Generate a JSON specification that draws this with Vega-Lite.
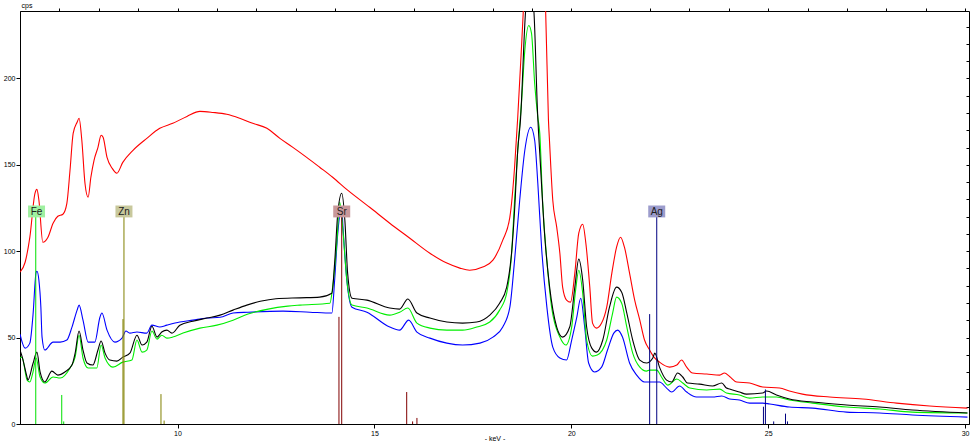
{
  "$schema": "https://vega.github.io/schema/vega-lite/v6.json",
  "width": 949,
  "height": 413,
  "autosize": "none",
  "padding": {"left": 20, "top": 11, "right": 6, "bottom": 21},
  "background": "white",
  "config": {"view": {"stroke": "black", "strokeWidth": 1}, "axis": {"domainColor": "black", "tickColor": "black", "labelColor": "black", "labelFont": "Liberation Sans", "labelFontSize": 7, "titleFont": "Liberation Sans", "titleFontSize": 7, "titleFontWeight": "normal", "titleColor": "black", "grid": false}},
  "datasets": {
    "spectra": [
      {"s":"red","k":6.00,"c":87.9},{"s":"red","k":6.13,"c":93.6},{"s":"red","k":6.25,"c":108.1},{"s":"red","k":6.38,"c":133.5},{"s":"red","k":6.43,"c":135.8},{"s":"red","k":6.48,"c":129.5},{"s":"red","k":6.58,"c":105.2},{"s":"red","k":6.71,"c":108.1},{"s":"red","k":6.84,"c":116.2},{"s":"red","k":6.96,"c":120.2},{"s":"red","k":7.09,"c":121.4},{"s":"red","k":7.19,"c":127.7},{"s":"red","k":7.27,"c":146.8},{"s":"red","k":7.35,"c":168.2},{"s":"red","k":7.45,"c":174.6},{"s":"red","k":7.50,"c":176.9},{"s":"red","k":7.57,"c":164.2},{"s":"red","k":7.65,"c":139.3},{"s":"red","k":7.73,"c":131.2},{"s":"red","k":7.80,"c":142.8},{"s":"red","k":7.88,"c":152.6},{"s":"red","k":7.98,"c":160.1},{"s":"red","k":8.06,"c":167.1},{"s":"red","k":8.11,"c":165.9},{"s":"red","k":8.21,"c":154.3},{"s":"red","k":8.34,"c":148.0},{"s":"red","k":8.46,"c":145.1},{"s":"red","k":8.61,"c":151.4},{"s":"red","k":8.87,"c":158.4},{"s":"red","k":9.22,"c":165.3},{"s":"red","k":9.55,"c":171.1},{"s":"red","k":9.88,"c":174.0},{"s":"red","k":10.24,"c":178.0},{"s":"red","k":10.57,"c":180.9},{"s":"red","k":10.90,"c":180.3},{"s":"red","k":11.25,"c":179.2},{"s":"red","k":11.58,"c":176.9},{"s":"red","k":11.91,"c":174.0},{"s":"red","k":12.27,"c":171.1},{"s":"red","k":12.60,"c":165.3},{"s":"red","k":12.93,"c":160.1},{"s":"red","k":13.28,"c":154.3},{"s":"red","k":13.61,"c":148.6},{"s":"red","k":13.94,"c":142.8},{"s":"red","k":14.32,"c":135.3},{"s":"red","k":14.88,"c":125.4},{"s":"red","k":15.39,"c":116.2},{"s":"red","k":15.90,"c":107.5},{"s":"red","k":16.41,"c":98.8},{"s":"red","k":16.84,"c":93.1},{"s":"red","k":17.17,"c":90.2},{"s":"red","k":17.42,"c":89.0},{"s":"red","k":17.75,"c":90.8},{"s":"red","k":18.01,"c":94.8},{"s":"red","k":18.26,"c":106.4},{"s":"red","k":18.44,"c":119.7},{"s":"red","k":18.56,"c":148.6},{"s":"red","k":18.64,"c":177.5},{"s":"red","k":18.74,"c":220},{"s":"red","k":18.84,"c":265},{"s":"red","k":18.95,"c":300},{"s":"red","k":19.08,"c":305},{"s":"red","k":19.22,"c":280},{"s":"red","k":19.35,"c":238},{"s":"red","k":19.42,"c":176},{"s":"red","k":19.45,"c":162.4},{"s":"red","k":19.53,"c":129.5},{"s":"red","k":19.63,"c":113.9},{"s":"red","k":19.71,"c":98.8},{"s":"red","k":19.78,"c":79.2},{"s":"red","k":19.88,"c":71.7},{"s":"red","k":19.98,"c":70.5},{"s":"red","k":20.09,"c":87.3},{"s":"red","k":20.19,"c":110.4},{"s":"red","k":20.29,"c":115.6},{"s":"red","k":20.37,"c":104.6},{"s":"red","k":20.47,"c":79.2},{"s":"red","k":20.54,"c":58.4},{"s":"red","k":20.64,"c":55.5},{"s":"red","k":20.77,"c":58.4},{"s":"red","k":20.90,"c":67.6},{"s":"red","k":21.03,"c":87.3},{"s":"red","k":21.15,"c":102.3},{"s":"red","k":21.25,"c":108.1},{"s":"red","k":21.35,"c":102.3},{"s":"red","k":21.48,"c":87.3},{"s":"red","k":21.61,"c":71.7},{"s":"red","k":21.74,"c":60.1},{"s":"red","k":21.86,"c":48.6},{"s":"red","k":21.99,"c":42.8},{"s":"red","k":22.10,"c":38.7},{"s":"red","k":22.24,"c":35.8},{"s":"red","k":22.50,"c":32.9},{"s":"red","k":22.68,"c":34.1},{"s":"red","k":22.80,"c":37.0},{"s":"red","k":22.93,"c":32.9},{"s":"red","k":23.08,"c":29.5},{"s":"red","k":23.44,"c":28.9},{"s":"red","k":23.77,"c":28.3},{"s":"red","k":23.89,"c":29.5},{"s":"red","k":24.02,"c":27.5},{"s":"red","k":24.20,"c":24.3},{"s":"red","k":24.53,"c":23.7},{"s":"red","k":24.86,"c":21.4},{"s":"red","k":25.29,"c":20.8},{"s":"red","k":25.54,"c":19.1},{"s":"red","k":25.87,"c":17.3},{"s":"red","k":26.56,"c":15.6},{"s":"red","k":27.40,"c":14.5},{"s":"red","k":28.26,"c":12.1},{"s":"red","k":29.10,"c":10.4},{"s":"red","k":30.06,"c":9.2},
      {"s":"blue","k":6.00,"c":52.0},{"s":"blue","k":6.13,"c":43.9},{"s":"blue","k":6.25,"c":46.8},{"s":"blue","k":6.33,"c":63.0},{"s":"blue","k":6.41,"c":87.9},{"s":"blue","k":6.43,"c":88.4},{"s":"blue","k":6.48,"c":83.2},{"s":"blue","k":6.53,"c":67.6},{"s":"blue","k":6.56,"c":50.3},{"s":"blue","k":6.63,"c":42.8},{"s":"blue","k":6.84,"c":47.4},{"s":"blue","k":7.02,"c":47.4},{"s":"blue","k":7.19,"c":48.6},{"s":"blue","k":7.32,"c":56.1},{"s":"blue","k":7.45,"c":65.9},{"s":"blue","k":7.50,"c":68.8},{"s":"blue","k":7.60,"c":60.1},{"s":"blue","k":7.73,"c":47.4},{"s":"blue","k":7.90,"c":47.4},{"s":"blue","k":8.03,"c":61.8},{"s":"blue","k":8.08,"c":64.2},{"s":"blue","k":8.21,"c":54.3},{"s":"blue","k":8.41,"c":47.4},{"s":"blue","k":8.59,"c":49.7},{"s":"blue","k":8.69,"c":53.8},{"s":"blue","k":8.79,"c":52.6},{"s":"blue","k":8.97,"c":53.2},{"s":"blue","k":9.22,"c":52.6},{"s":"blue","k":9.35,"c":57.2},{"s":"blue","k":9.55,"c":56.1},{"s":"blue","k":9.73,"c":57.2},{"s":"blue","k":10.06,"c":59.0},{"s":"blue","k":10.39,"c":60.1},{"s":"blue","k":10.75,"c":61.3},{"s":"blue","k":11.08,"c":61.8},{"s":"blue","k":11.41,"c":64.2},{"s":"blue","k":11.79,"c":64.7},{"s":"blue","k":12.68,"c":65.3},{"s":"blue","k":13.36,"c":64.7},{"s":"blue","k":13.92,"c":64.2},{"s":"blue","k":13.99,"c":83.2},{"s":"blue","k":14.07,"c":110.4},{"s":"blue","k":14.17,"c":125.4},{"s":"blue","k":14.20,"c":114.5},{"s":"blue","k":14.30,"c":83.2},{"s":"blue","k":14.43,"c":67.6},{"s":"blue","k":14.81,"c":64.7},{"s":"blue","k":15.39,"c":56.1},{"s":"blue","k":15.64,"c":54.3},{"s":"blue","k":15.87,"c":60.1},{"s":"blue","k":16.08,"c":53.2},{"s":"blue","k":16.41,"c":49.7},{"s":"blue","k":16.84,"c":46.8},{"s":"blue","k":17.24,"c":45.7},{"s":"blue","k":17.68,"c":46.8},{"s":"blue","k":18.01,"c":50.3},{"s":"blue","k":18.26,"c":56.1},{"s":"blue","k":18.44,"c":67.6},{"s":"blue","k":18.56,"c":94.8},{"s":"blue","k":18.69,"c":129.5},{"s":"blue","k":18.82,"c":158.4},{"s":"blue","k":18.97,"c":171.7},{"s":"blue","k":19.07,"c":164.2},{"s":"blue","k":19.15,"c":139.3},{"s":"blue","k":19.25,"c":100.6},{"s":"blue","k":19.38,"c":67.6},{"s":"blue","k":19.53,"c":44.5},{"s":"blue","k":19.71,"c":38.2},{"s":"blue","k":19.88,"c":37.0},{"s":"blue","k":20.01,"c":48.6},{"s":"blue","k":20.14,"c":61.8},{"s":"blue","k":20.24,"c":72.8},{"s":"blue","k":20.34,"c":56.1},{"s":"blue","k":20.44,"c":35.3},{"s":"blue","k":20.59,"c":30.1},{"s":"blue","k":20.77,"c":32.9},{"s":"blue","k":20.92,"c":42.8},{"s":"blue","k":21.08,"c":52.6},{"s":"blue","k":21.18,"c":54.3},{"s":"blue","k":21.30,"c":50.3},{"s":"blue","k":21.48,"c":35.3},{"s":"blue","k":21.66,"c":28.3},{"s":"blue","k":21.86,"c":24.3},{"s":"blue","k":22.07,"c":24.3},{"s":"blue","k":22.24,"c":24.3},{"s":"blue","k":22.42,"c":20.8},{"s":"blue","k":22.55,"c":18.5},{"s":"blue","k":22.75,"c":22.0},{"s":"blue","k":22.93,"c":18.5},{"s":"blue","k":23.18,"c":15.6},{"s":"blue","k":23.59,"c":15.6},{"s":"blue","k":23.82,"c":16.2},{"s":"blue","k":24.02,"c":14.5},{"s":"blue","k":24.27,"c":13.9},{"s":"blue","k":24.53,"c":12.1},{"s":"blue","k":24.86,"c":12.1},{"s":"blue","k":25.04,"c":11.6},{"s":"blue","k":25.54,"c":9.8},{"s":"blue","k":26.13,"c":9.2},{"s":"blue","k":26.99,"c":6.9},{"s":"blue","k":27.83,"c":6.4},{"s":"blue","k":28.66,"c":5.2},{"s":"blue","k":30.06,"c":4.0},
      {"s":"green","k":6.00,"c":38.2},{"s":"green","k":6.05,"c":38.7},{"s":"green","k":6.18,"c":25.4},{"s":"green","k":6.25,"c":24.3},{"s":"green","k":6.33,"c":30.0},{"s":"green","k":6.41,"c":38.2},{"s":"green","k":6.51,"c":27.2},{"s":"green","k":6.63,"c":23.7},{"s":"green","k":6.84,"c":27.2},{"s":"green","k":7.02,"c":26.6},{"s":"green","k":7.27,"c":32.4},{"s":"green","k":7.40,"c":38.7},{"s":"green","k":7.50,"c":51.4},{"s":"green","k":7.60,"c":38.2},{"s":"green","k":7.73,"c":32.4},{"s":"green","k":7.95,"c":32.4},{"s":"green","k":8.06,"c":45.7},{"s":"green","k":8.16,"c":38.2},{"s":"green","k":8.36,"c":32.9},{"s":"green","k":8.61,"c":35.8},{"s":"green","k":8.84,"c":37.0},{"s":"green","k":8.97,"c":48.6},{"s":"green","k":9.10,"c":41.6},{"s":"green","k":9.22,"c":42.8},{"s":"green","k":9.35,"c":53.8},{"s":"green","k":9.48,"c":49.1},{"s":"green","k":9.60,"c":51.4},{"s":"green","k":9.73,"c":49.7},{"s":"green","k":9.88,"c":50.3},{"s":"green","k":10.14,"c":52.6},{"s":"green","k":10.57,"c":55.5},{"s":"green","k":11.00,"c":57.2},{"s":"green","k":11.41,"c":60.1},{"s":"green","k":11.79,"c":63.6},{"s":"green","k":12.30,"c":66.5},{"s":"green","k":12.80,"c":68.2},{"s":"green","k":13.11,"c":68.8},{"s":"green","k":13.87,"c":69.9},{"s":"green","k":13.94,"c":79.2},{"s":"green","k":14.05,"c":106.4},{"s":"green","k":14.12,"c":128.3},{"s":"green","k":14.20,"c":112.1},{"s":"green","k":14.30,"c":83.2},{"s":"green","k":14.43,"c":68.8},{"s":"green","k":14.81,"c":67.1},{"s":"green","k":15.39,"c":63.0},{"s":"green","k":15.64,"c":64.7},{"s":"green","k":15.85,"c":67.1},{"s":"green","k":16.08,"c":58.4},{"s":"green","k":16.41,"c":55.5},{"s":"green","k":16.84,"c":54.3},{"s":"green","k":17.24,"c":54.3},{"s":"green","k":17.60,"c":56.1},{"s":"green","k":17.93,"c":59.0},{"s":"green","k":18.18,"c":65.9},{"s":"green","k":18.36,"c":75.7},{"s":"green","k":18.49,"c":100.6},{"s":"green","k":18.56,"c":129.5},{"s":"green","k":18.64,"c":158.4},{"s":"green","k":18.74,"c":187.3},{"s":"green","k":18.82,"c":216.2},{"s":"green","k":18.92,"c":230.6},{"s":"green","k":18.99,"c":226.0},{"s":"green","k":19.07,"c":197.1},{"s":"green","k":19.15,"c":177.5},{"s":"green","k":19.20,"c":168.2},{"s":"green","k":19.27,"c":129.5},{"s":"green","k":19.38,"c":94.8},{"s":"green","k":19.50,"c":67.6},{"s":"green","k":19.71,"c":50.3},{"s":"green","k":19.86,"c":45.7},{"s":"green","k":20.01,"c":56.1},{"s":"green","k":20.11,"c":77.5},{"s":"green","k":20.19,"c":89.0},{"s":"green","k":20.29,"c":75.7},{"s":"green","k":20.39,"c":48.6},{"s":"green","k":20.54,"c":39.3},{"s":"green","k":20.66,"c":39.9},{"s":"green","k":20.90,"c":48.6},{"s":"green","k":21.05,"c":64.2},{"s":"green","k":21.15,"c":73.4},{"s":"green","k":21.28,"c":69.9},{"s":"green","k":21.41,"c":56.1},{"s":"green","k":21.56,"c":41.0},{"s":"green","k":21.74,"c":32.9},{"s":"green","k":21.91,"c":30.6},{"s":"green","k":21.99,"c":31.2},{"s":"green","k":22.17,"c":31.2},{"s":"green","k":22.29,"c":27.2},{"s":"green","k":22.45,"c":22.5},{"s":"green","k":22.68,"c":26.0},{"s":"green","k":22.83,"c":23.7},{"s":"green","k":23.01,"c":20.8},{"s":"green","k":23.44,"c":19.7},{"s":"green","k":23.77,"c":20.2},{"s":"green","k":23.94,"c":17.9},{"s":"green","k":24.27,"c":16.8},{"s":"green","k":24.53,"c":15.0},{"s":"green","k":24.86,"c":15.6},{"s":"green","k":25.21,"c":15.6},{"s":"green","k":25.54,"c":13.9},{"s":"green","k":26.13,"c":12.1},{"s":"green","k":26.99,"c":9.8},{"s":"green","k":27.83,"c":8.7},{"s":"green","k":28.66,"c":6.9},{"s":"green","k":30.06,"c":6.4},
      {"s":"black","k":6.00,"c":42.8},{"s":"black","k":6.05,"c":39.3},{"s":"black","k":6.18,"c":27.0},{"s":"black","k":6.20,"c":25.4},{"s":"black","k":6.33,"c":35.0},{"s":"black","k":6.43,"c":41.6},{"s":"black","k":6.51,"c":30.1},{"s":"black","k":6.63,"c":24.3},{"s":"black","k":6.81,"c":30.6},{"s":"black","k":6.96,"c":28.3},{"s":"black","k":7.14,"c":30.1},{"s":"black","k":7.32,"c":34.1},{"s":"black","k":7.40,"c":41.0},{"s":"black","k":7.50,"c":53.8},{"s":"black","k":7.60,"c":42.8},{"s":"black","k":7.70,"c":35.3},{"s":"black","k":7.85,"c":34.1},{"s":"black","k":7.98,"c":42.8},{"s":"black","k":8.06,"c":48.0},{"s":"black","k":8.16,"c":41.0},{"s":"black","k":8.28,"c":37.0},{"s":"black","k":8.46,"c":36.4},{"s":"black","k":8.61,"c":38.7},{"s":"black","k":8.79,"c":41.0},{"s":"black","k":8.97,"c":51.4},{"s":"black","k":9.10,"c":45.7},{"s":"black","k":9.22,"c":47.4},{"s":"black","k":9.35,"c":56.6},{"s":"black","k":9.48,"c":50.3},{"s":"black","k":9.60,"c":53.2},{"s":"black","k":9.73,"c":54.3},{"s":"black","k":9.86,"c":52.6},{"s":"black","k":10.06,"c":57.2},{"s":"black","k":10.39,"c":59.5},{"s":"black","k":10.75,"c":61.3},{"s":"black","k":11.08,"c":63.0},{"s":"black","k":11.41,"c":65.9},{"s":"black","k":11.76,"c":68.8},{"s":"black","k":12.10,"c":71.0},{"s":"black","k":12.50,"c":72.5},{"s":"black","k":13.11,"c":73.0},{"s":"black","k":13.61,"c":73.4},{"s":"black","k":13.92,"c":75.7},{"s":"black","k":13.99,"c":93.1},{"s":"black","k":14.07,"c":122.0},{"s":"black","k":14.17,"c":133.5},{"s":"black","k":14.25,"c":117.9},{"s":"black","k":14.32,"c":87.3},{"s":"black","k":14.43,"c":72.8},{"s":"black","k":14.81,"c":71.7},{"s":"black","k":15.39,"c":67.1},{"s":"black","k":15.64,"c":66.5},{"s":"black","k":15.85,"c":72.3},{"s":"black","k":16.08,"c":64.2},{"s":"black","k":16.41,"c":61.3},{"s":"black","k":16.84,"c":59.0},{"s":"black","k":17.24,"c":58.4},{"s":"black","k":17.60,"c":59.0},{"s":"black","k":17.93,"c":63.0},{"s":"black","k":18.18,"c":69.9},{"s":"black","k":18.36,"c":79.2},{"s":"black","k":18.49,"c":100.6},{"s":"black","k":18.56,"c":123.7},{"s":"black","k":18.64,"c":158.4},{"s":"black","k":18.71,"c":176.0},{"s":"black","k":18.84,"c":239.0},{"s":"black","k":18.95,"c":255.0},{"s":"black","k":19.05,"c":239.0},{"s":"black","k":19.14,"c":182.0},{"s":"black","k":19.22,"c":148.6},{"s":"black","k":19.32,"c":110.4},{"s":"black","k":19.45,"c":79.2},{"s":"black","k":19.63,"c":56.1},{"s":"black","k":19.78,"c":50.3},{"s":"black","k":19.96,"c":56.1},{"s":"black","k":20.09,"c":79.2},{"s":"black","k":20.19,"c":95.4},{"s":"black","k":20.29,"c":83.2},{"s":"black","k":20.39,"c":56.1},{"s":"black","k":20.52,"c":43.9},{"s":"black","k":20.64,"c":41.6},{"s":"black","k":20.80,"c":48.6},{"s":"black","k":20.97,"c":67.6},{"s":"black","k":21.15,"c":79.2},{"s":"black","k":21.28,"c":76.3},{"s":"black","k":21.41,"c":64.2},{"s":"black","k":21.56,"c":48.6},{"s":"black","k":21.74,"c":37.0},{"s":"black","k":21.91,"c":35.3},{"s":"black","k":22.07,"c":38.2},{"s":"black","k":22.12,"c":41.0},{"s":"black","k":22.24,"c":32.9},{"s":"black","k":22.42,"c":25.4},{"s":"black","k":22.55,"c":24.3},{"s":"black","k":22.70,"c":29.5},{"s":"black","k":22.83,"c":27.2},{"s":"black","k":22.95,"c":23.7},{"s":"black","k":23.26,"c":23.1},{"s":"black","k":23.59,"c":22.0},{"s":"black","k":23.82,"c":23.7},{"s":"black","k":23.94,"c":20.8},{"s":"black","k":24.02,"c":20.2},{"s":"black","k":24.27,"c":18.5},{"s":"black","k":24.45,"c":17.3},{"s":"black","k":24.86,"c":17.9},{"s":"black","k":24.96,"c":19.1},{"s":"black","k":25.21,"c":16.8},{"s":"black","k":25.54,"c":14.5},{"s":"black","k":26.13,"c":12.7},{"s":"black","k":26.99,"c":11.0},{"s":"black","k":27.83,"c":9.8},{"s":"black","k":28.66,"c":8.1},{"s":"black","k":30.06,"c":6.4}
    ],
    "lines": [
      {"el":"Fe","k":6.40,"c":120},{"el":"Fe","k":7.06,"c":16.8},{"el":"Fe","k":7.11,"c":1.5},
      {"el":"Zn","k":8.615,"c":60.7},{"el":"Zn","k":8.64,"c":120},{"el":"Zn","k":9.58,"c":17.3},{"el":"Zn","k":9.66,"c":2},
      {"el":"Sr","k":14.10,"c":62},{"el":"Sr","k":14.17,"c":120},{"el":"Sr","k":15.82,"c":18.5},{"el":"Sr","k":15.97,"c":1.5},{"el":"Sr","k":16.08,"c":3.5},
      {"el":"Ag","k":21.99,"c":63.6},{"el":"Ag","k":22.17,"c":120},{"el":"Ag","k":24.88,"c":10},{"el":"Ag","k":24.93,"c":20},{"el":"Ag","k":25.14,"c":1.5},{"el":"Ag","k":25.44,"c":6},{"el":"Ag","k":25.49,"c":1.5}
    ],
    "labels": [
      {"el":"Fe","k":6.42,"c":123},{"el":"Zn","k":8.64,"c":123},{"el":"Sr","k":14.17,"c":123},{"el":"Ag","k":22.17,"c":123}
    ]
  },
  "encoding": {
    "x": {"field": "k", "type": "quantitative", "scale": {"domain": [6, 30.1], "nice": false, "zero": false}},
    "y": {"field": "c", "type": "quantitative", "scale": {"domain": [0, 239], "nice": false, "zero": true}}
  },
  "layer": [
    {
      "data": {"name": "spectra"},
      "mark": {"type": "line", "strokeWidth": 1.1, "clip": true, "interpolate": "monotone"},
      "encoding": {
        "x": {"field": "k", "type": "quantitative",
              "axis": {"values": [10, 15, 20, 25, 30], "tickSize": 4, "labelPadding": 1, "title": "- keV -", "titleY": 16, "titleBaseline": "alphabetic", "labelFlush": false}},
        "y": {"field": "c", "type": "quantitative",
              "axis": {"values": [0, 50, 100, 150, 200], "tickSize": 4, "labelPadding": 1, "title": "cps", "titleAngle": 0, "titleAlign": "left", "titleX": 1, "titleY": -4, "titleBaseline": "alphabetic"}},
        "color": {"field": "s", "type": "nominal", "scale": {"domain": ["red", "blue", "green", "black"], "range": ["#ff0000", "#0000ff", "#00ee00", "#000000"]}, "legend": null}
      }
    },
    {
      "data": {"name": "lines"},
      "mark": {"type": "rule", "strokeWidth": 1},
      "encoding": {
        "x": {"field": "k", "type": "quantitative",
              "axis": {"values": [7,8,9,10,11,12,13,14,15,16,17,18,19,20,21,22,23,24,25,26,27,28,29,30], "tickSize": 3, "labels": false, "domain": false, "title": null}},
        "y": {"datum": 0, "type": "quantitative",
              "axis": {"values": [10,20,30,40,50,60,70,80,90,100,110,120,130,140,150,160,170,180,190,200,210,220,230], "tickSize": -3, "labels": false, "domain": false, "title": null}},
        "y2": {"field": "c"},
        "color": {"field": "el", "type": "nominal", "scale": {"domain": ["Fe", "Zn", "Sr", "Ag"], "range": ["#00e000", "#808000", "#800000", "#000080"]}, "legend": null}
      }
    },
    {
      "data": {"name": "labels"},
      "mark": {"type": "point", "shape": "M-1,-0.7H1V0.7H-1Z", "size": 289, "filled": true, "opacity": 1, "strokeWidth": 0},
      "encoding": {
        "x": {"field": "k", "type": "quantitative", "axis": null},
        "y": {"field": "c", "type": "quantitative", "axis": null},
        "fill": {"field": "el", "type": "nominal", "scale": {"domain": ["Fe", "Zn", "Sr", "Ag"], "range": ["#a0f0a0", "#c8c89c", "#c8989a", "#9c9ccc"]}, "legend": null}
      }
    },
    {
      "data": {"name": "labels"},
      "mark": {"type": "text", "font": "Liberation Sans", "fontSize": 10, "baseline": "middle", "align": "center", "color": "#202020", "dy": 0.5},
      "encoding": {
        "x": {"field": "k", "type": "quantitative", "axis": null},
        "y": {"field": "c", "type": "quantitative", "axis": null},
        "text": {"field": "el"}
      }
    }
  ],
  "resolve": {"scale": {"color": "independent"}, "axis": {"x": "independent", "y": "independent"}}
}
